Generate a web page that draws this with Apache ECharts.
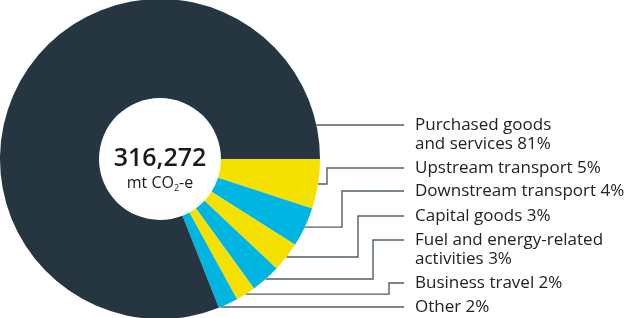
<!DOCTYPE html>
<html>
<head>
<meta charset="utf-8">
<script src="https://cdn.jsdelivr.net/npm/echarts@6/dist/echarts.min.js"></script>
<style>
  html, body { margin: 0; padding: 0; background: #fff; }
  #main { width: 624px; height: 318px; }
</style>
</head>
<body>
<div id="main"></div>
<script>
// slices, clockwise from 3 o'clock
var categories = [
  "Upstream transport",
  "Downstream transport",
  "Capital goods",
  "Fuel and energy-related\nactivities",
  "Business travel",
  "Other",
  "Purchased goods\nand services"
];
var shares = [5, 4, 3, 3, 2, 2, 81];
var sliceColors = ["#f5e100", "#00b5e2", "#f5e100", "#00b5e2", "#f5e100", "#00b5e2", "#253640"];
var totalText = "316,272";

// label placement (first line y of each label, elbow x of leader line; null = straight)
var lineY = [168, 191, 216, 240, 283, 307, 125];
var elbowX = [327, 342, 358, 373, 389, null, null];
var labelX = 415;
var lineEndX = 404;
var lineH = 19;

var cx = 160, cy = 159, outerR = 160, innerR = 61;

var total = shares.reduce(function (a, b) { return a + b; }, 0);

function leaderPoints(i) {
  var y = lineY[i];
  if (elbowX[i] == null) {
    // horizontal line from ring edge at label height
    var dy = y - cy;
    var x0 = cx + Math.sqrt(outerR * outerR - dy * dy);
    return [[x0, y], [lineEndX, y]];
  }
  var before = 0;
  for (var k = 0; k < i; k++) before += shares[k];
  var mid = (before + shares[i] / 2) / total * Math.PI * 2;
  var x1 = cx + outerR * Math.cos(mid);
  var y1 = cy + outerR * Math.sin(mid);
  return [[x1, y1], [elbowX[i], y1], [elbowX[i], y], [lineEndX, y]];
}

var option = {
  animation: false,
  graphic: [{
    type: "text",
    x: cx,
    y: 169,
    style: {
      text: "{big|" + totalText + "}\n{unit|mt CO}{sub|2}{unit|-e}",
      align: "center",
      verticalAlign: "middle",
      fill: "#1a1a1a",
      rich: {
        big: { fontFamily: "Open Sans", fontSize: 25, fontWeight: 600, lineHeight: 28, fill: "#1a1a1a" },
        unit: { fontFamily: "Open Sans", fontSize: 16, fontWeight: 500, lineHeight: 20, fill: "#1a1a1a" },
        sub: { fontFamily: "Open Sans", fontSize: 9, fontWeight: 500, lineHeight: 20, padding: [10, 0, 0, 0], fill: "#1a1a1a" }
      }
    }
  }],
  series: [{
    type: "pie",
    center: [cx, cy],
    radius: [innerR, outerR],
    startAngle: 0,
    clockwise: true,
    avoidLabelOverlap: false,
    silent: true,
    itemStyle: { borderWidth: 0 },
    label: {
      show: true,
      position: "outside",
      fontFamily: "Open Sans",
      fontSize: 17,
      lineHeight: lineH,
      color: "#222",
      formatter: function (p) { return p.name + " " + p.value + "%"; }
    },
    labelLine: {
      show: true,
      smooth: false,
      lineStyle: { color: "#4f5f68", width: 1.4 }
    },
    labelLayout: function (params) {
      var i = params.dataIndex;
      var lines = categories[i].split("\n").length;
      return {
        x: labelX,
        y: lineY[i] + (lines - 1) * lineH / 2,
        align: "left",
        verticalAlign: "middle",
        labelLinePoints: leaderPoints(i)
      };
    },
    data: categories.map(function (c, i) {
      return { name: c, value: shares[i], itemStyle: { color: sliceColors[i] } };
    })
  }]
};

var myChart = echarts.init(document.getElementById("main"));
myChart.setOption(option);
</script>
</body>
</html>
